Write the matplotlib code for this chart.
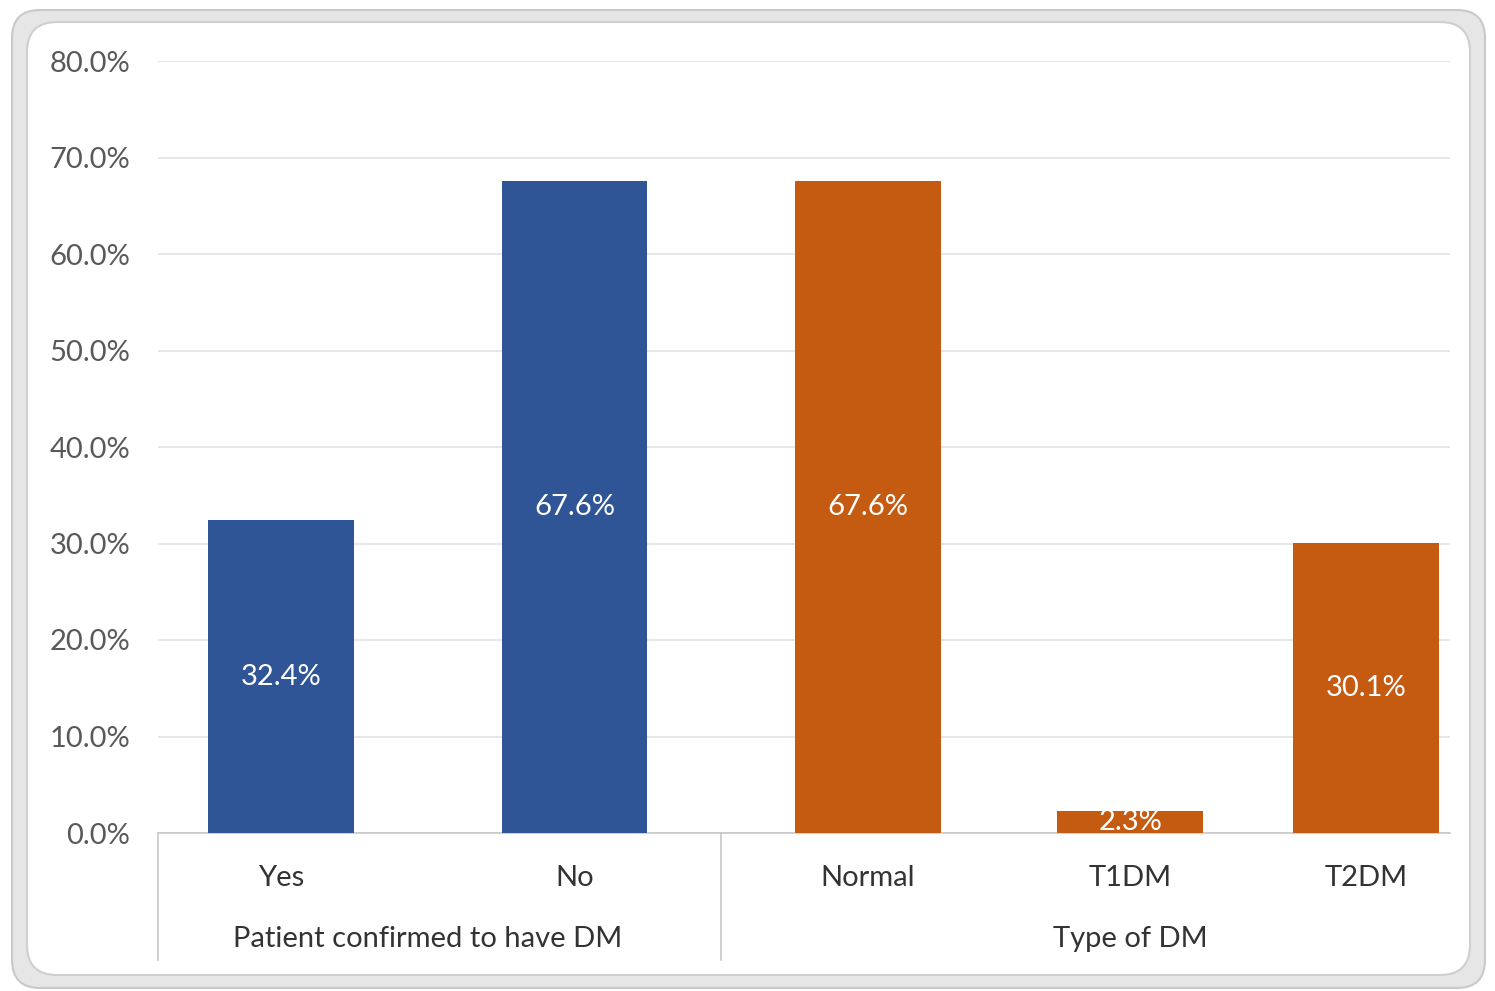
import numpy as np
import matplotlib.pyplot as plt
from matplotlib.patches import FancyBboxPatch
import matplotlib.transforms as mtransforms

plt.rcParams['font.family'] = ['Lato', 'DejaVu Sans']

# data
categories = ['Yes', 'No', 'Normal', 'T1DM', 'T2DM']
values = [32.4, 67.6, 67.6, 2.3, 30.1]
groups = ['Patient confirmed to have DM', 'Type of DM']
group_sizes = [2, 3]

# layout
xpos = np.array([0, 1, 2, 2.893, 3.697])
bar_w = 0.497
blue = '#2F5597'
orange = '#C55A11'
colors = [blue] * group_sizes[0] + [orange] * group_sizes[1]
txt = '#333333'
fs = 21

fig = plt.figure(figsize=(14.95, 9.91), dpi=100)

# chart frame (outer grey band + white rounded panel), kept behind the axes
outer = FancyBboxPatch((12, 3), 1473, 978, boxstyle='round,pad=0,rounding_size=28',
                       transform=None, facecolor='#E6E6E6', edgecolor='#C9C9C9', lw=1.5, zorder=-2)
inner = FancyBboxPatch((27, 16), 1443, 953, boxstyle='round,pad=0,rounding_size=30',
                       transform=None, facecolor='white', edgecolor='#CFCFCF', lw=1.5, zorder=-1)
fig.patches.extend([outer, inner])

ax = fig.add_axes([158 / 1495, 158 / 991, 1292 / 1495, 772 / 991])
ax.set_facecolor('none')
bars = ax.bar(xpos, values, width=bar_w, color=colors, zorder=3)
ax.bar_label(bars, labels=[f'{v:.1f}%' for v in values], label_type='center',
             color='white', fontsize=fs, zorder=4)

ax.set_xlim(-0.419, 3.983)
ax.set_ylim(0, 80)
ax.set_yticks(np.arange(0, 81, 10))
ax.set_yticklabels([f'{t:.1f}%' for t in np.arange(0, 81, 10)], color='#595959', fontsize=fs)
ax.yaxis.grid(True, color='#E3E3E3', lw=1.2, zorder=0)
ax.tick_params(axis='y', length=0, pad=20)
ax.set_xticks([])
for s in ['top', 'right', 'left']:
    ax.spines[s].set_visible(False)
ax.spines['bottom'].set_color('#C8C8C8')
ax.spines['bottom'].set_linewidth(1.2)

# two-level category axis
trans = mtransforms.blended_transform_factory(ax.transData, ax.transAxes)
for x, c in zip(xpos, categories):
    ax.text(x, -0.058, c, transform=trans, ha='center', va='center',
            fontsize=fs, color=txt, clip_on=False)

edges = [-0.419]
start = 0
for g, n in zip(groups, group_sizes):
    end = start + n
    right = (xpos[end - 1] + xpos[end]) / 2 if end < len(xpos) else 3.983
    ax.text((xpos[start] + xpos[end - 1]) / 2 if n == 2 else xpos[start + 1], -0.137, g,
            transform=trans, ha='center', va='center', fontsize=fs, color=txt, clip_on=False)
    edges.append(right)
    start = end
for e in edges[:-1]:
    ax.plot([e, e], [0, -0.1645], transform=trans, color='#C8C8C8', lw=1.2, clip_on=False)

fig.savefig('out.png', dpi=100)
